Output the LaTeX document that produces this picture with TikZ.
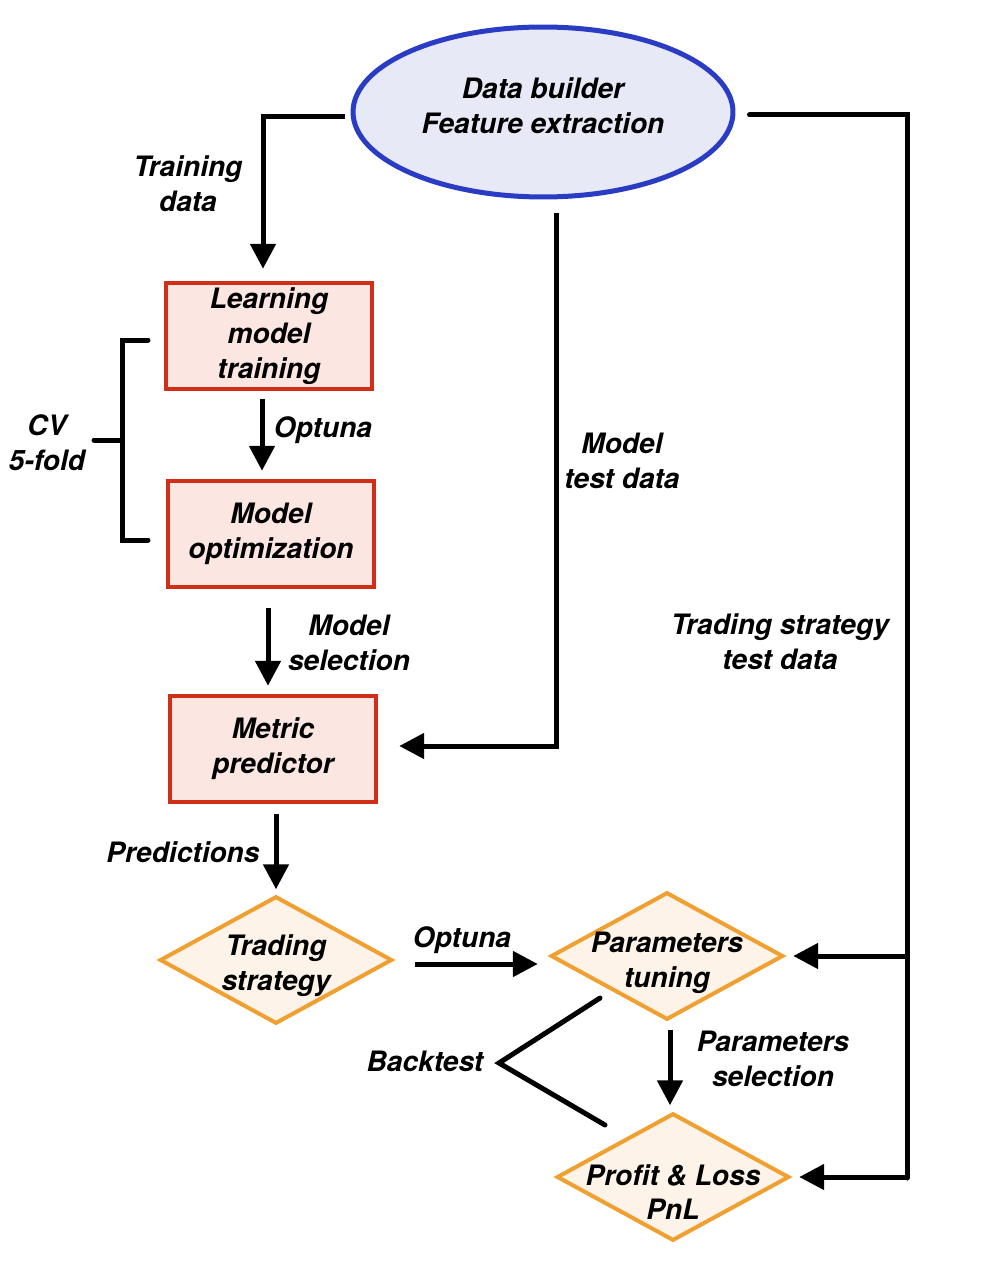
\documentclass[tikz,border=0pt]{standalone}
\usepackage{fontspec}
\setmainfont{TeX Gyre Heros}
\usetikzlibrary{arrows.meta,shapes.geometric,positioning}
\definecolor{builderblue}{HTML}{2B3CC4}
\definecolor{builderfill}{HTML}{E7E9F6}
\definecolor{modelred}{HTML}{D02E16}
\definecolor{modelfill}{HTML}{FBE6E2}
\definecolor{stratorange}{HTML}{F0A030}
\definecolor{stratfill}{HTML}{FDF3E8}

\begin{document}
\begin{tikzpicture}[x=0.02cm,y=-0.02cm]
    \tikzset{every node/.style={font=\fontsize{16}{19.8}\selectfont\bfseries\itshape,
        align=center},
      BuilderStyle/.style={ellipse, draw=builderblue, fill=builderfill,
        line width=0.1cm, minimum width=7.6cm, minimum height=3.4cm},
      ModelStyle/.style={rectangle, draw=modelred, fill=modelfill,
        line width=0.09cm, minimum width=4.12cm, minimum height=2.12cm, inner sep=0pt},
      StrategyStyle/.style={diamond, draw=stratorange, fill=stratfill,
        line width=0.08cm, minimum width=4.65cm, minimum height=2.55cm},
      EdgeStyle/.style={line width=0.1cm, -{Triangle[length=0.5cm,width=0.5cm]}},
      LineStyle/.style={line width=0.1cm, line cap=round}}
    \fill[white] (0,0) rectangle (991,1280);
    \useasboundingbox (0,0) rectangle (991,1280);

    \node[BuilderStyle, label={[yshift=0.12cm]center:{Data builder\\Feature extraction}}] (builder) at (543,112) {};
    \node[ModelStyle] (train) at (269,336) {Learning\\model\\training};
    \node[ModelStyle] (optim) at (271,534) {Model\\optimization};
    \node[ModelStyle] (pred) at (273,749) {Metric\\predictor};
    \node[StrategyStyle, label={[yshift=-0.12cm]center:{Trading\\strategy}}] (trade) at (276,960) {};
    \node[StrategyStyle, label={[yshift=-0.14cm]center:{Parameters\\tuning}}] (tune) at (667,956) {};
    \node[StrategyStyle, label={[yshift=-0.3cm]center:{Profit \& Loss\\PnL}}] (pnl) at (673,1177) {};

    \coordinate (trunktop) at (907,115);
    \coordinate (trunkbot) at (907,1178);
    \coordinate (cvtop) at (148,340);
    \coordinate (cvspine) at (122,440);
    \coordinate (cvstub) at (94,440);
    \coordinate (cvbot) at (148,540);
    \coordinate (btup) at (600,998);
    \coordinate (btapex) at (499,1063);
    \coordinate (btdown) at (605,1125);

    \draw[EdgeStyle, shorten <=0.12cm, shorten >=0.24cm] ([yshift=-0.1cm]builder.west) -| ([xshift=-0.12cm]train.north);
    \draw[EdgeStyle, shorten <=0.16cm, shorten >=0.16cm] ([xshift=-0.14cm]train.south) -- ([xshift=-0.14cm]train.south |- optim.north);
    \draw[EdgeStyle, shorten <=0.38cm, shorten >=0.16cm] ([xshift=-0.06cm]optim.south) -- ([xshift=-0.06cm]optim.south |- pred.north);
    \draw[EdgeStyle, shorten <=0.28cm, shorten >=0.42cm] ([xshift=0.26cm]builder.south) |- ([yshift=0.06cm]pred.east);
    \draw[EdgeStyle, shorten <=0.2cm, shorten >=0.1cm] (pred.south -| trade.north) -- (trade.north);
    \draw[EdgeStyle, shorten <=0.42cm, shorten >=0.22cm] ([yshift=-0.08cm]trade.east) -- ([yshift=-0.08cm]trade.east -| tune.west);
    \draw[EdgeStyle, shorten <=0.16cm, shorten >=0.12cm] ([xshift=0.06cm]tune.south) -- ([xshift=0.06cm]tune.south |- pnl.north);
    \draw[LineStyle, shorten <=0.28cm] (builder.east |- trunktop) -- (trunktop) -- (trunkbot);
    \draw[EdgeStyle, shorten >=0.16cm] (tune.east -| trunktop) -- (tune.east);
    \draw[EdgeStyle, shorten >=0.16cm] (pnl.east -| trunktop) -- (pnl.east);
    \draw[LineStyle] (cvtop) -| (cvspine) |- (cvbot);
    \draw[LineStyle] (cvstub) -- (cvspine);
    \draw[LineStyle] (btup) -- (btapex) -- (btdown);

    \node (trainlbl) at (188,184) {Training\\data};
    \node (optunalbl) at (323,430) {Optuna};
    \node (selectlbl) at (349,643) {Model\\selection};
    \node (testlbl) at (622,461) {Model\\test data};
    \node (stratlbl) at (780,642) {Trading strategy\\test data};
    \node (predlbl) at (183,852) {Predictions};
    \node (tunelbl) at (462,940) {Optuna};
    \node (paramlbl) at (773,1059) {Parameters\\selection};
    \node (backlbl) at (425,1061) {Backtest};
    \node (cvlbl) at (47,443) {CV\\5-fold};
\end{tikzpicture}
\end{document}
